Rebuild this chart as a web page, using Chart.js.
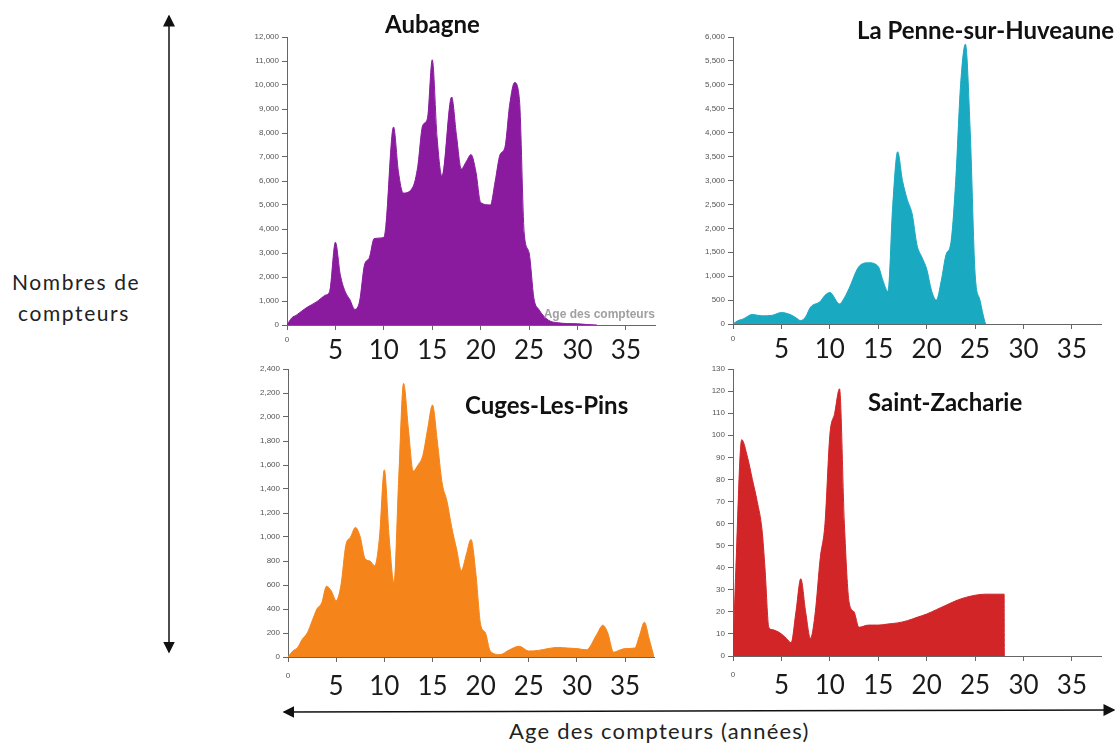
<!DOCTYPE html>
<html>
<head>
<meta charset="utf-8">
<script src="https://cdn.jsdelivr.net/npm/chart.js@4"></script>
<style>
  body { margin: 0; background: #fff; width: 1118px; height: 743px; overflow: hidden; position: relative; font-family: Lato, sans-serif; }
  canvas { position: absolute; }
  .title { position: absolute; font-weight: bold; font-size: 24px; line-height: 24px; color: #111; white-space: nowrap; }
  .label { position: absolute; font-size: 21px; color: #222; white-space: nowrap; letter-spacing: 1.6px; }
  svg { position: absolute; left: 0; top: 0; }
</style>
</head>
<body>
<svg width="1118" height="743">
  <defs>
    <marker id="ah" markerWidth="8" markerHeight="8" refX="7" refY="4" orient="auto-start-reverse">
      <path d="M0,0 L8,4 L0,8 z" fill="#111"/>
    </marker>
  </defs>
  <line x1="169" y1="16" x2="169" y2="652" stroke="#111" stroke-width="1.5" marker-start="url(#ah)" marker-end="url(#ah)"/>
  <line x1="284" y1="712" x2="1114" y2="710" stroke="#111" stroke-width="1.5" marker-start="url(#ah)" marker-end="url(#ah)"/>
</svg>

<div class="label" style="left:12px;top:269px;">Nombres de</div>
<div class="label" style="left:18px;top:300px;">compteurs</div>
<div class="label" style="left:509px;top:717px;font-size:22px;letter-spacing:1.2px;">Age des compteurs (années)</div>

<canvas id="aubagne"></canvas>
<canvas id="lapenne"></canvas>
<canvas id="cuges"></canvas>
<canvas id="zacharie"></canvas>

<div class="title" style="left:385px;top:12px;">Aubagne</div>
<div class="title" style="left:857px;top:18px;">La Penne-sur-Huveaune</div>
<div class="title" style="left:465px;top:393px;">Cuges-Les-Pins</div>
<div class="title" style="left:868px;top:390px;">Saint-Zacharie</div>

<script>
// ages (années) and counts
const aubagneAges = [0, 0.5, 1, 2, 3, 4, 4.4, 5, 5.5, 6, 6.5, 7, 7.5, 8, 8.5, 9, 10, 10.2, 11, 11.5, 12, 13, 13.5, 14, 14.5, 15, 15.5, 16, 17, 17.5, 18, 18.5, 19, 19.5, 20, 21, 21.5, 22, 22.5, 23, 23.5, 24, 24.5, 25, 25.5, 26, 27, 28, 29, 30, 31, 32]
const aubagneCounts = [0, 300, 420, 720, 950, 1250, 1400, 3450, 2100, 1400, 1050, 650, 1000, 2500, 2800, 3600, 3650, 4100, 8250, 6400, 5500, 5750, 6600, 8300, 8600, 11050, 7800, 6200, 9500, 7900, 6500, 6800, 7100, 6400, 5100, 5000, 6000, 7100, 7400, 9200, 10100, 9400, 3800, 3000, 1100, 650, 200, 90, 60, 50, 20, 0]

const lapenneAges = [0, 0.5, 1, 2, 3, 4, 5, 6, 6.5, 7, 7.5, 8, 9, 9.5, 10, 11, 11.5, 12, 13, 14, 15, 15.5, 16, 16.5, 17, 17.5, 18, 18.5, 19, 19.5, 20, 20.5, 21, 21.5, 22, 22.5, 23, 23.5, 24, 24.5, 25, 25.5, 26, 26.1]
const lapenneCounts = [0, 70, 100, 200, 170, 180, 240, 190, 130, 70, 150, 350, 470, 600, 660, 420, 550, 750, 1200, 1280, 1200, 900, 680, 2500, 3600, 3000, 2600, 2300, 1650, 1400, 1150, 700, 500, 900, 1450, 1700, 3000, 5000, 5850, 4000, 1050, 500, 50, 0]

const cugesAges = [0, 0.5, 1, 1.5, 2, 2.5, 3, 3.5, 4, 4.5, 5, 5.5, 6, 6.5, 7, 7.5, 8, 8.5, 9, 9.5, 10, 10.5, 11, 11.5, 12, 12.5, 13, 13.5, 14, 14.5, 15, 15.5, 16, 16.5, 17, 17.5, 18, 18.5, 19, 19.5, 20, 20.5, 21, 22, 23, 24, 25, 26, 27, 28, 29, 30, 31, 32, 32.7, 33.2, 33.8, 34.5, 35, 36, 36.5, 37, 37.5, 38]
const cugesCounts = [0, 50, 80, 150, 200, 300, 400, 450, 590, 550, 470, 600, 930, 1000, 1080, 1000, 820, 800, 760, 1000, 1560, 1000, 620, 1500, 2280, 1900, 1550, 1600, 1680, 1900, 2100, 1800, 1450, 1300, 1080, 900, 720, 850, 980, 700, 270, 200, 50, 20, 60, 90, 50, 55, 70, 80, 75, 70, 60, 180, 265, 200, 40, 60, 70, 75, 180, 290, 150, 0]

const zacharieAges = [0, 0.3, 0.9, 1.5, 2, 2.5, 3, 3.3, 3.7, 4, 5, 5.5, 6, 6.5, 7, 7.5, 8, 8.5, 9, 9.5, 10, 10.5, 11, 11.5, 12, 12.5, 13, 14, 15, 16, 17, 18, 19, 20, 21, 22, 23, 24, 25, 26, 27, 28, 28.02]
const zacharieCounts = [0, 40, 98, 90, 80, 70, 57, 40, 13, 12, 10, 8, 6, 20, 35, 20, 8, 20, 44, 60, 100, 110, 121, 60, 24, 20, 13, 14, 14, 14.5, 15, 16, 17.5, 19, 21, 23, 25, 26.5, 27.5, 28, 28, 28, 0]

const xTicks = [0, 5, 10, 15, 20, 25, 30, 35]

// small axis caption inside the Aubagne panel
const cornerCaption = {
  id: 'cornerCaption',
  afterDraw(chart, args, opts) {
    if (!opts.text) return
    const { ctx, chartArea } = chart
    ctx.save()
    ctx.font = 'bold 12px "Liberation Sans", Arial, sans-serif'
    ctx.fillStyle = 'rgba(150,150,150,0.9)'
    ctx.textAlign = 'right'
    ctx.textBaseline = 'bottom'
    ctx.fillText(opts.text, chartArea.right, chartArea.bottom - 4)
    ctx.restore()
  }
}

function makePanel(id, ages, counts, color, yMax, yStep, box, caption) {
  const padTop = 8, padRight = 14, yW = 50, xH = 44
  const cv = document.getElementById(id)
  const w = box.right - box.left + yW + padRight
  const h = box.bottom - box.top + padTop + xH
  cv.style.left = (box.left - yW) + 'px'
  cv.style.top = (box.top - padTop) + 'px'
  cv.width = w
  cv.height = h
  cv.style.width = w + 'px'
  cv.style.height = h + 'px'

  return new Chart(cv, {
    type: 'line',
    data: {
      datasets: [{
        data: ages.map((a, i) => ({ x: a, y: counts[i] })),
        backgroundColor: color,
        borderColor: color,
        borderWidth: 1,
        fill: 'origin',
        pointRadius: 0,
        cubicInterpolationMode: 'monotone'
      }]
    },
    options: {
      responsive: false,
      animation: false,
      locale: 'en-US',
      layout: { padding: { top: padTop, right: padRight, left: 0, bottom: 0 } },
      plugins: { legend: { display: false }, tooltip: { enabled: false }, cornerCaption: { text: caption } },
      scales: {
        x: {
          type: 'linear',
          min: 0,
          max: 38,
          afterFit: s => { s.height = xH },
          afterBuildTicks: s => { s.ticks = xTicks.map(v => ({ value: v })) },
          grid: { drawOnChartArea: false, tickLength: 5, color: '#666' },
          border: { color: '#666', width: 1 },
          ticks: {
            autoSkip: false,
            maxRotation: 0,
            padding: box.xPad,
            color: ctx => ctx.tick && ctx.tick.value === 0 ? '#555' : '#1a1a1a',
            font: ctx => ctx.tick && ctx.tick.value === 0
              ? { family: '"Liberation Sans", Arial', size: 8 }
              : { family: 'Lato, sans-serif', size: 26 }
          }
        },
        y: {
          min: 0,
          max: yMax,
          afterFit: s => { s.width = yW },
          grid: { drawOnChartArea: false, tickLength: 5, color: '#666' },
          border: { color: '#666', width: 1 },
          ticks: {
            stepSize: yStep,
            color: '#555',
            padding: 3,
            font: { family: '"Liberation Sans", Arial', size: 8 }
          }
        }
      }
    },
    plugins: [cornerCaption]
  })
}

makePanel('aubagne', aubagneAges, aubagneCounts, '#8a1b9f', 12000, 1000,
  { left: 287, right: 655, top: 37, bottom: 325, xPad: 5 }, 'Age des compteurs')
makePanel('lapenne', lapenneAges, lapenneCounts, '#19a9c0', 6000, 500,
  { left: 733, right: 1101, top: 37, bottom: 324, xPad: 5 })
makePanel('cuges', cugesAges, cugesCounts, '#f5851a', 2400, 200,
  { left: 288, right: 654, top: 369, bottom: 657, xPad: 9 })
makePanel('zacharie', zacharieAges, zacharieCounts, '#d22528', 130, 10,
  { left: 733, right: 1101, top: 369, bottom: 656, xPad: 9 })
</script>
</body>
</html>
